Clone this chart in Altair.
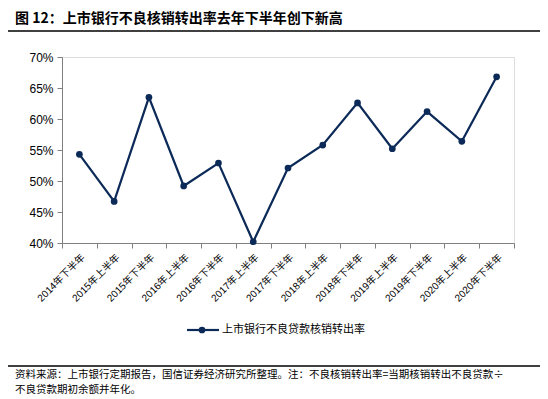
import altair as alt
import pandas as pd

periods = ["2014年下半年", "2015年上半年", "2015年下半年", "2016年上半年", "2016年下半年",
           "2017年上半年", "2017年下半年", "2018年上半年", "2018年下半年", "2019年上半年",
           "2019年下半年", "2020年上半年", "2020年下半年"]
rates = [0.543, 0.467, 0.635, 0.492, 0.529, 0.402, 0.521, 0.558, 0.626, 0.552, 0.612, 0.564, 0.668]
y_ticks = [0.40, 0.45, 0.50, 0.55, 0.60, 0.65, 0.70]

title_text = "图 12：上市银行不良核销转出率去年下半年创下新高"
series_name = "上市银行不良贷款核销转出率"
footer1 = "资料来源：上市银行定期报告，国信证券经济研究所整理。注：不良核销转出率=当期核销转出不良贷款÷"
footer2 = "不良贷款期初余额并年化。"

NAVY = "#0c2a58"
FONT = "Liberation Sans, Noto Sans CJK SC"

df = pd.DataFrame({"period": periods, "rate": rates})

W, H = 452, 186

xenc = alt.X("period:N", sort=None, bandPosition=0.5,
             scale=alt.Scale(type="band", paddingInner=0, paddingOuter=0),
             axis=alt.Axis(title=None, labelAngle=-45, tickBand="extent", labelFontSize=10,
                           labelFont=FONT, labelColor="#000000", domainColor="#808080",
                           tickColor="#808080", tickSize=5, labelPadding=4, grid=False))
yenc = alt.Y("rate:Q", scale=alt.Scale(domain=[0.4, 0.7], nice=False, zero=False),
             axis=alt.Axis(title=None, format=".0%", values=y_ticks, labelFontSize=12,
                           labelFont=FONT, labelColor="#000000", domainColor="#808080",
                           tickColor="#808080", tickSize=5, labelPadding=4, grid=False))

base = alt.Chart(df)
line = base.mark_line(color=NAVY, strokeWidth=2.2).encode(x=xenc, y=yenc)
pts = base.mark_point(color=NAVY, filled=True, opacity=1, size=45).encode(x=xenc, y=yenc)

one = pd.DataFrame({"k": [0]})
def rule(x1, x2, y, w=1.5, color="#000000"):
    return alt.Chart(one).mark_rule(color=color, strokeWidth=w).encode(
        x=alt.value(x1), x2=alt.value(x2), y=alt.value(y))

def label(txt, x, y, size, bold=False, font=FONT):
    return alt.Chart(one).mark_text(text=txt, align="left", baseline="middle", fontSize=size,
                                    fontWeight="bold" if bold else "normal", font=font,
                                    color="#000000").encode(x=alt.value(x), y=alt.value(y))

ox, oy = 62, 57
layers = [
    rule(5 - ox, 541 - ox, 6 - oy),
    rule(5 - ox, 541 - ox, 31 - oy),
    label(title_text, 15 - ox, 18.5 - oy, 14, bold=True, font="Noto Sans CJK SC"),
    line, pts,
    rule(187 - ox, 219 - ox, 330 - oy, w=2.2, color=NAVY),
    alt.Chart(one).mark_point(color=NAVY, filled=True, opacity=1, size=45).encode(
        x=alt.value(202 - ox), y=alt.value(330 - oy)),
    label(series_name, 222 - ox, 330 - oy, 11, font="Noto Sans CJK SC"),
    rule(5 - ox, 541 - ox, 366 - oy),
    label(footer1, 15 - ox, 375 - oy, 10.5, font="Noto Sans CJK SC"),
    label(footer2, 15 - ox, 389.5 - oy, 10.5, font="Noto Sans CJK SC"),
]

chart = alt.layer(*layers).properties(
    width=W, height=H,
    autosize=alt.AutoSizeParams(type="none"),
    padding={"left": ox - 8, "top": oy - 8, "right": 532 - (ox - 8) - W, "bottom": 389 - (oy - 8) - H},
).configure_view(stroke=None).configure(background="#ffffff")

chart.save("out.html", embed_options={"renderer": "svg", "actions": False})
